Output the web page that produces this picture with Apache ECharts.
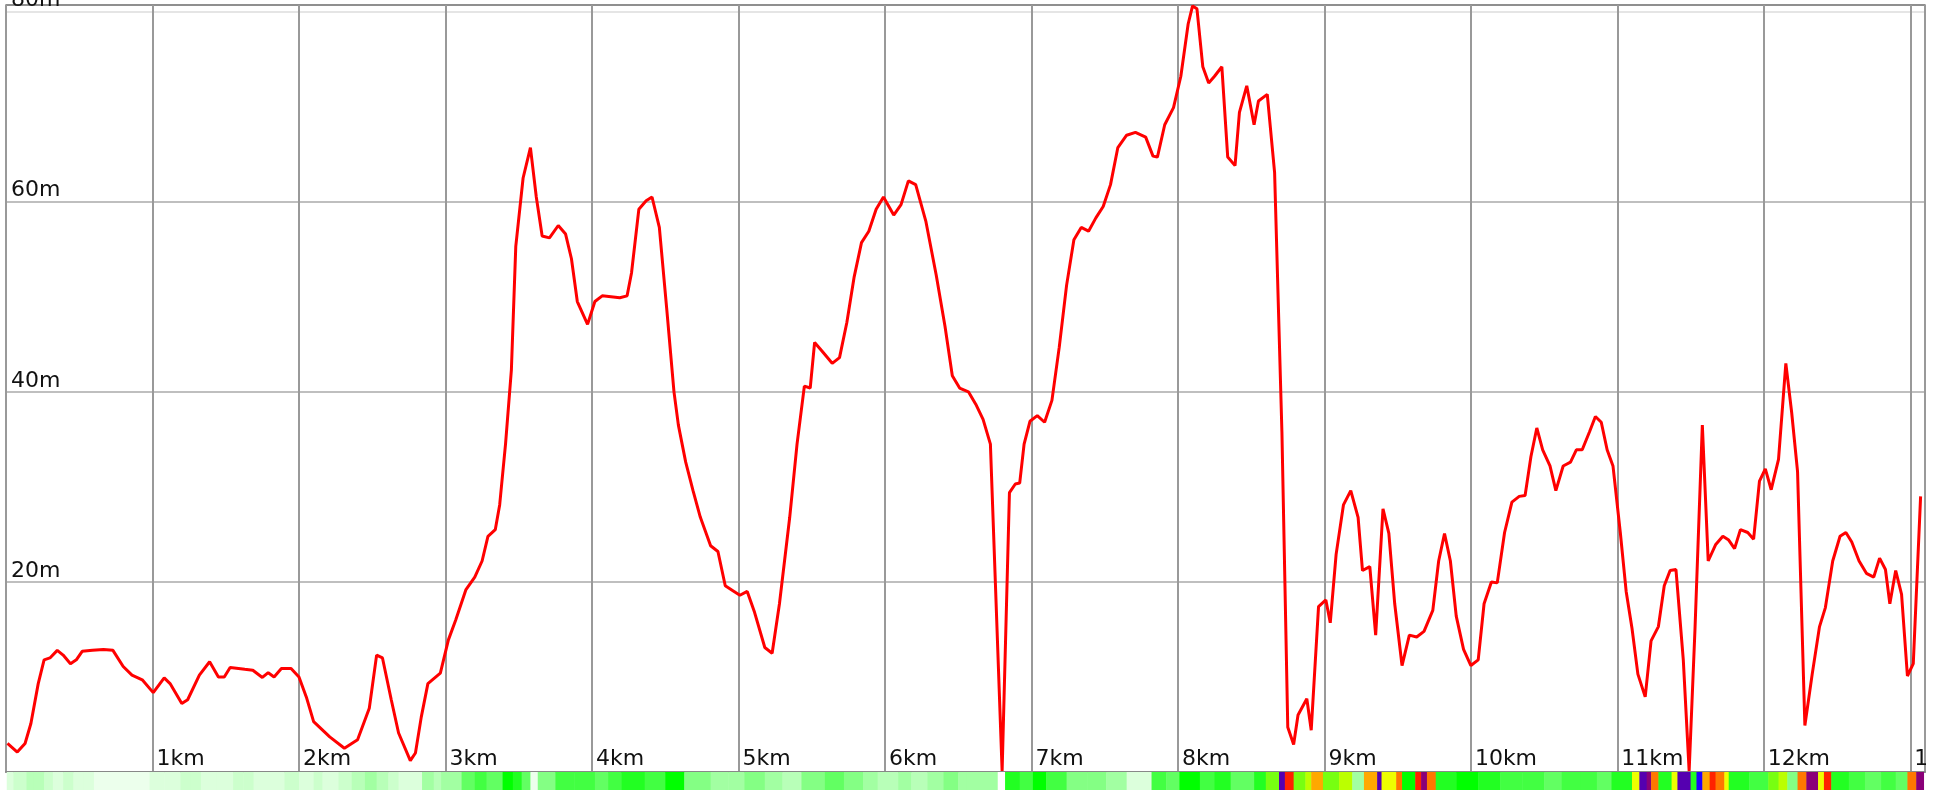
<!DOCTYPE html>
<html>
<head>
<meta charset="utf-8">
<script src="https://cdn.jsdelivr.net/npm/echarts@6/dist/echarts.min.js"></script>
<style>
html,body{margin:0;padding:0;background:#fff;overflow:hidden;}
#chart{width:1935px;height:790px;}
</style>
</head>
<body>
<div id="chart"></div>
<script>
// distance along the route (km)
const distKm = [0.01,0.077,0.13,0.17,0.22,0.26,0.30,0.35,0.39,0.44,0.48,0.52,0.59,0.665,0.73,0.80,0.86,0.93,1.005,1.08,1.12,1.20,1.24,1.32,1.39,1.45,1.49,1.53,1.63,1.685,1.75,1.79,1.83,1.88,1.946,2.0,2.05,2.10,2.21,2.31,2.40,2.48,2.53,2.57,2.63,2.68,2.76,2.795,2.835,2.88,2.965,3.02,3.07,3.14,3.2,3.25,3.29,3.34,3.37,3.41,3.45,3.48,3.53,3.58,3.62,3.66,3.71,3.77,3.82,3.86,3.90,3.97,4.02,4.07,4.13,4.19,4.24,4.27,4.32,4.37,4.41,4.46,4.51,4.56,4.59,4.64,4.69,4.74,4.81,4.86,4.91,4.97,5.01,5.06,5.11,5.18,5.23,5.28,5.35,5.40,5.45,5.49,5.52,5.57,5.64,5.69,5.74,5.79,5.84,5.89,5.94,5.99,6.06,6.11,6.16,6.21,6.28,6.35,6.41,6.46,6.51,6.57,6.62,6.67,6.72,6.80,6.85,6.89,6.92,6.95,6.99,7.04,7.09,7.14,7.19,7.24,7.29,7.34,7.39,7.44,7.49,7.54,7.59,7.65,7.71,7.78,7.83,7.86,7.91,7.97,8.02,8.07,8.10,8.13,8.17,8.21,8.25,8.30,8.34,8.39,8.42,8.47,8.52,8.55,8.61,8.66,8.71,8.75,8.79,8.82,8.88,8.91,8.96,9.01,9.04,9.08,9.13,9.18,9.23,9.26,9.31,9.35,9.40,9.44,9.48,9.53,9.58,9.63,9.68,9.74,9.78,9.82,9.86,9.90,9.95,10.0,10.05,10.09,10.14,10.18,10.23,10.28,10.33,10.37,10.41,10.45,10.49,10.54,10.58,10.63,10.68,10.72,10.76,10.81,10.85,10.89,10.93,10.97,11.02,11.06,11.10,11.14,11.19,11.23,11.28,11.32,11.36,11.40,11.45,11.49,11.53,11.58,11.62,11.67,11.72,11.76,11.80,11.84,11.89,11.93,11.97,12.01,12.05,12.10,12.15,12.19,12.23,12.28,12.33,12.38,12.42,12.47,12.52,12.56,12.60,12.65,12.70,12.75,12.79,12.83,12.86,12.90,12.94,12.98,13.02,13.07];
// elevation (m)
const elevM = [3.0,2.1,3.0,5.1,9.3,11.8,12.0,12.8,12.3,11.4,11.8,12.7,12.8,12.9,12.8,11.1,10.2,9.7,8.35,9.9,9.3,7.2,7.6,10.2,11.6,10.0,10.0,11.0,10.8,10.7,9.95,10.45,10.0,10.9,10.9,10.0,7.9,5.3,3.7,2.5,3.4,6.7,12.3,12.0,7.6,4.1,1.2,2.0,5.8,9.3,10.4,13.9,16.0,19.2,20.5,22.2,24.8,25.5,28.1,34.5,42.3,55.3,62.5,65.7,60.5,56.4,56.2,57.5,56.6,54.0,49.5,47.1,49.5,50.1,50.0,49.9,50.1,52.5,59.2,60.1,60.5,57.3,48.8,40.0,36.5,32.6,29.6,26.8,23.8,23.2,19.6,19.0,18.6,19.0,16.8,13.1,12.5,17.7,26.8,34.5,40.6,40.4,45.2,44.3,43.0,43.6,47.3,52.1,55.7,56.9,59.2,60.5,58.6,59.7,62.2,61.8,57.9,52.3,46.9,41.7,40.4,40.0,38.7,37.1,34.5,0.1,29.4,30.3,30.4,34.5,36.9,37.5,36.8,39.1,44.7,51.2,56.0,57.3,56.9,58.3,59.5,61.8,65.7,67.0,67.3,66.8,64.8,64.7,68.1,69.9,73.2,78.7,80.6,80.3,74.2,72.5,73.2,74.2,64.7,63.8,69.4,72.2,68.1,70.6,71.3,63.1,35.8,4.7,2.9,6.0,7.7,4.4,17.4,18.1,15.7,22.9,28.1,29.6,26.8,21.2,21.6,14.4,27.7,25.1,17.7,11.2,14.4,14.2,14.8,17.0,22.2,25.1,22.2,16.4,12.9,11.2,11.8,17.7,20.0,19.9,25.2,28.4,29.0,29.1,33.2,36.2,33.9,32.2,29.6,32.2,32.6,33.9,33.9,35.8,37.4,36.8,33.9,32.2,25.2,19.0,15.1,10.3,7.9,13.8,15.3,19.6,21.2,21.3,11.8,0.1,15.1,36.5,22.2,23.9,24.8,24.4,23.5,25.5,25.2,24.5,30.6,31.9,29.7,32.9,43.0,37.8,31.6,4.9,10.3,15.3,17.3,22.2,24.8,25.2,24.2,22.2,20.9,20.5,22.5,21.3,17.7,21.2,18.7,10.1,11.4,29.0];

// slope strip: segment start (km) and slope class; last segment ends at stripEndKm
const stripStartKm = [0.005,0.05,0.10,0.14,0.19,0.26,0.32,0.39,0.46,0.53,0.60,0.75,0.85,0.98,1.08,1.19,1.26,1.33,1.44,1.55,1.62,1.69,1.80,1.90,2.00,2.10,2.16,2.27,2.36,2.45,2.53,2.61,2.68,2.84,2.92,2.97,3.11,3.20,3.28,3.39,3.46,3.52,3.58,3.63,3.75,3.88,4.02,4.11,4.20,4.28,4.36,4.50,4.63,4.81,4.93,5.04,5.18,5.30,5.43,5.59,5.72,5.85,5.95,6.09,6.18,6.29,6.40,6.50,6.56,6.68,6.77,6.82,6.92,7.01,7.10,7.24,7.38,7.51,7.65,7.82,7.92,8.01,8.15,8.25,8.36,8.52,8.60,8.69,8.73,8.79,8.87,8.91,8.99,9.10,9.19,9.27,9.36,9.39,9.49,9.53,9.62,9.66,9.70,9.76,9.90,10.05,10.20,10.35,10.50,10.62,10.75,10.86,10.96,11.10,11.15,11.20,11.23,11.28,11.37,11.41,11.50,11.54,11.58,11.63,11.67,11.73,11.76,11.90,12.03,12.10,12.16,12.23,12.29,12.37,12.41,12.46,12.58,12.69,12.80,12.90,12.98,13.04];
const stripClass   = [1,2,2,3,3,2,1,2,1,1,0,0,0,1,1,2,2,1,1,2,2,1,1,2,1,2,1,2,3,4,3,2,1,4,3,4,6,7,6,9,8,6,0,5,7,7,6,7,8,8,7,9,5,4,4,5,4,3,5,6,5,4,3,4,3,4,5,4,4,4,19,8,7,9,7,5,5,4,1,7,6,9,7,8,6,8,10,17,15,10,11,13,10,11,4,13,17,12,14,9,15,16,14,8,9,8,7,7,6,7,7,6,8,12,17,16,14,8,12,17,8,18,13,15,14,12,8,7,10,11,5,14,16,12,15,8,7,6,7,6,14,16];
const stripEndKm = 13.09;

// axis ticks
const xMaxKm = 13.1;
const yMaxM = 80.7;
const xTickStep = 1;
const yTickStep = 20;

const slopePalette = ['#ecffec','#dcffdc','#ccffcc','#b8ffb8','#a2ffa2','#84ff84','#62ff62','#42ff42','#22ff22','#00ff00','#77ff11','#bbff00','#eeff00','#ffa800','#ff7700','#ff2200','#8a0078','#5500b0','#2200ff','#ffffff'];

const lineData = distKm.map((d, i) => [d, elevM[i]]);
const stripData = stripStartKm.map((s, i) => [s, i + 1 < stripStartKm.length ? stripStartKm[i + 1] : stripEndKm, stripClass[i]]);

const chart = echarts.init(document.getElementById('chart'), null, {renderer: 'canvas'});
const labelFont = {fontFamily: 'DejaVu Sans', fontSize: 22, color: '#111'};
chart.setOption({
  animation: false,
  backgroundColor: '#fff',
  grid: [
    {left: 6, right: 10, top: 5, bottom: 18, show: true, borderColor: '#888', borderWidth: 1.5, backgroundColor: '#fff', containLabel: false, outerBoundsMode: 'none'},
    {left: 6, right: 10, top: 772, height: 18, show: false, containLabel: false, outerBoundsMode: 'none'}
  ],
  xAxis: [
    {
      type: 'value', gridIndex: 0, min: 0, max: xMaxKm, interval: xTickStep,
      axisLine: {show: true, lineStyle: {color: '#888', width: 2}},
      axisTick: {show: false},
      splitLine: {show: true, lineStyle: {color: '#999', width: 2}},
      axisLabel: Object.assign({
        inside: true, align: 'left', verticalAlign: 'bottom', margin: 2, padding: [0, 0, 0, 4],
        showMinLabel: false, showMaxLabel: false, hideOverlap: false,
        formatter: v => (v > 0 && Math.abs(v - Math.round(v)) < 1e-6) ? Math.round(v) + 'km' : ''
      }, labelFont)
    },
    {type: 'value', gridIndex: 1, min: 0, max: xMaxKm, show: false}
  ],
  yAxis: [
    {
      type: 'value', gridIndex: 0, min: 0, max: yMaxM, interval: yTickStep,
      axisLine: {show: false}, axisTick: {show: false},
      splitLine: {show: true, lineStyle: {color: ['#aaa', '#aaa', '#aaa', '#aaa', '#ddd', '#888'], width: 1.5}},
      axisLabel: Object.assign({
        inside: true, align: 'left', verticalAlign: 'bottom', margin: 5,
        showMinLabel: false, hideOverlap: false,
        formatter: v => (v > 0 && Math.abs(v % 20) < 1e-6) ? v + 'm' : ''
      }, labelFont)
    },
    {type: 'value', gridIndex: 1, min: 0, max: 1, show: false}
  ],
  series: [
    {
      type: 'line', xAxisIndex: 0, yAxisIndex: 0, data: lineData,
      showSymbol: false, symbol: 'none', smooth: false,
      lineStyle: {color: '#ff0000', width: 3}, z: 5
    },
    {
      type: 'custom', xAxisIndex: 1, yAxisIndex: 1, data: stripData,
      renderItem: function (params, api) {
        const p0 = api.coord([api.value(0), 1]);
        const p1 = api.coord([api.value(1), 0]);
        return {
          type: 'rect',
          shape: {x: p0[0], y: p0[1], width: p1[0] - p0[0] + 0.5, height: p1[1] - p0[1]},
          style: {fill: slopePalette[api.value(2)]}
        };
      },
      encode: {x: [0, 1]}
    }
  ],
  graphic: [
    {type: 'rect', left: 1926, top: 0, shape: {width: 9, height: 771}, style: {fill: '#fff'}, z: 100}
  ]
});
</script>
</body>
</html>
